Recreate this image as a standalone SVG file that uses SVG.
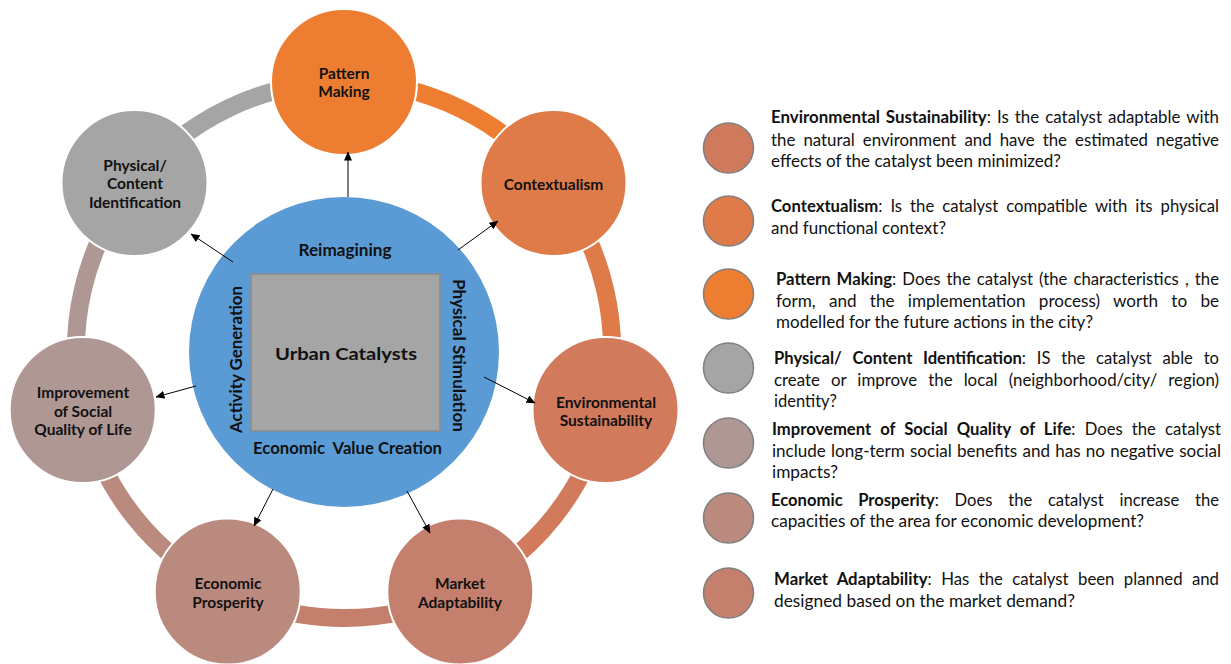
<svg xmlns="http://www.w3.org/2000/svg" width="1231" height="664" viewBox="0 0 1231 664">
<defs>
<marker id="ah" markerWidth="9" markerHeight="8" refX="8.5" refY="4" orient="auto" markerUnits="userSpaceOnUse">
<path d="M0,0 L9,4 L0,8 Z" fill="#000"/>
</marker>
<style>
.ring{fill:none;stroke-width:18}
.node{stroke:#fff;stroke-width:2}
.nl{font-family:Lato,"Liberation Sans",sans-serif;font-weight:bold;font-size:15.5px;fill:#111;text-anchor:middle}
.cl{font-family:Lato,"Liberation Sans",sans-serif;font-weight:bold;font-size:17px;fill:#111;text-anchor:middle}
.conn{stroke:#000;stroke-width:1;fill:none;marker-end:url(#ah)}
.lg{stroke:#7f7f7f;stroke-width:1.5}
.lt{font-family:Lato,"Liberation Sans",sans-serif;font-size:16.5px;fill:#111}
.b{font-weight:bold}
</style>
</defs>

<g id="ring">
<path class="ring" stroke="#ED7D31" d="M344,82 A268,268 0 0 1 553.5,182.9"/>
<path class="ring" stroke="#DF7B48" d="M553.5,182.9 A268,268 0 0 1 605.3,409.6"/>
<path class="ring" stroke="#D27A5C" d="M605.3,409.6 A268,268 0 0 1 460.3,591.5"/>
<path class="ring" stroke="#C57F6D" d="M460.3,591.5 A268,268 0 0 1 227.7,591.5"/>
<path class="ring" stroke="#BB8A7F" d="M227.7,591.5 A268,268 0 0 1 82.7,409.6"/>
<path class="ring" stroke="#AF9794" d="M82.7,409.6 A268,268 0 0 1 134.5,182.9"/>
<path class="ring" stroke="#A5A5A5" d="M134.5,182.9 A268,268 0 0 1 344,82"/>
</g>

<g id="center">
<circle cx="344" cy="352" r="155" fill="#5B9BD5"/>
<rect x="251" y="274" width="189" height="157" fill="#A5A5A5" stroke="#8a8a8a" stroke-width="1.5"/>
<text class="cl" x="345" y="256" textLength="93" lengthAdjust="spacingAndGlyphs">Reimagining</text>
<text class="cl" x="346" y="360" font-size="20.5px" textLength="142" lengthAdjust="spacingAndGlyphs">Urban Catalysts</text>
<text class="cl" x="347.5" y="454" textLength="189" lengthAdjust="spacingAndGlyphs" xml:space="preserve">Economic  Value Creation</text>
<text class="cl" transform="translate(242,359.5) rotate(-90)" x="0" y="0" textLength="147" lengthAdjust="spacingAndGlyphs">Activity Generation</text>
<text class="cl" transform="translate(453,355.5) rotate(90)" x="0" y="0" textLength="153" lengthAdjust="spacingAndGlyphs">Physical Stimulation</text>
</g>

<g id="node-pattern">
<circle class="node" cx="344" cy="82" r="73" fill="#ED7D31"/>
<text class="nl" x="344" y="79">Pattern</text>
<text class="nl" x="344" y="97">Making</text>
</g>
<g id="node-contextualism">
<circle class="node" cx="553.5" cy="183" r="73" fill="#DF7B48"/>
<text class="nl" x="553.5" y="190">Contextualism</text>
</g>
<g id="node-environmental">
<circle class="node" cx="605.5" cy="410" r="73" fill="#D27A5C"/>
<text class="nl" x="606" y="408">Environmental</text>
<text class="nl" x="606" y="426">Sustainability</text>
</g>
<g id="node-market">
<circle class="node" cx="460.3" cy="591.5" r="73" fill="#C57F6D"/>
<text class="nl" x="460" y="589">Market</text>
<text class="nl" x="460" y="608">Adaptability</text>
</g>
<g id="node-economic">
<circle class="node" cx="227.7" cy="591.5" r="73" fill="#BB8A7F"/>
<text class="nl" x="228" y="589">Economic</text>
<text class="nl" x="228" y="608">Prosperity</text>
</g>
<g id="node-social">
<circle class="node" cx="82.7" cy="410" r="73" fill="#AF9794"/>
<text class="nl" x="83" y="398">Improvement</text>
<text class="nl" x="83" y="417">of Social</text>
<text class="nl" x="83" y="435">Quality of Life</text>
</g>
<g id="node-physical">
<circle class="node" cx="134.5" cy="183" r="73" fill="#A5A5A5"/>
<text class="nl" x="135" y="171">Physical/</text>
<text class="nl" x="135" y="189">Content</text>
<text class="nl" x="135" y="207.5">Identification</text>
</g>

<g id="connectors">
<line class="conn" x1="348" y1="197" x2="348" y2="152"/>
<line class="conn" x1="458" y1="250" x2="498" y2="221"/>
<line class="conn" x1="484" y1="377" x2="535" y2="403"/>
<line class="conn" x1="407" y1="491" x2="430" y2="533"/>
<line class="conn" x1="273" y1="489" x2="254" y2="526"/>
<line class="conn" x1="196" y1="386" x2="156" y2="397"/>
<line class="conn" x1="233" y1="262" x2="191" y2="234"/>
</g>

<g id="legend-environmental">
<circle class="lg" cx="728.5" cy="148" r="25" fill="#D07A5D"/>
<text class="lt" x="771" y="123" textLength="448" lengthAdjust="spacingAndGlyphs" word-spacing="1.7"><tspan class="b">Environmental Sustainability</tspan>: Is the catalyst adaptable with</text>
<text class="lt" x="771" y="145.5" textLength="448" lengthAdjust="spacingAndGlyphs" word-spacing="3.7">the natural environment and have the estimated negative</text>
<text class="lt" x="771" y="167" textLength="290" lengthAdjust="spacingAndGlyphs">effects of the catalyst been minimized?</text>
</g>
<g id="legend-contextualism">
<circle class="lg" cx="728.5" cy="221" r="25" fill="#DF7B48"/>
<text class="lt" x="771" y="212" textLength="448" lengthAdjust="spacingAndGlyphs" word-spacing="3.7"><tspan class="b">Contextualism</tspan>: Is the catalyst compatible with its physical</text>
<text class="lt" x="771" y="233.5" textLength="175" lengthAdjust="spacingAndGlyphs">and functional context?</text>
</g>
<g id="legend-pattern">
<circle class="lg" cx="728.5" cy="294" r="25" fill="#ED7D31"/>
<text class="lt" x="776" y="285" textLength="443" lengthAdjust="spacingAndGlyphs" word-spacing="1.8"><tspan class="b">Pattern Making</tspan>: Does the catalyst (the characteristics , the</text>
<text class="lt" x="776" y="306.7" textLength="443" lengthAdjust="spacingAndGlyphs" word-spacing="8.6">form, and the implementation process) worth to be</text>
<text class="lt" x="776" y="328.3" textLength="317" lengthAdjust="spacingAndGlyphs">modelled for the future actions in the city?</text>
</g>
<g id="legend-physical">
<circle class="lg" cx="728.5" cy="368" r="25" fill="#A5A5A5"/>
<text class="lt" x="774" y="364" textLength="445" lengthAdjust="spacingAndGlyphs" word-spacing="6.5"><tspan class="b">Physical/ Content Identification</tspan>: IS the catalyst able to</text>
<text class="lt" x="774" y="386" textLength="445" lengthAdjust="spacingAndGlyphs" word-spacing="6.6">create or improve the local (neighborhood/city/ region)</text>
<text class="lt" x="774" y="406.7" textLength="63" lengthAdjust="spacingAndGlyphs">identity?</text>
</g>
<g id="legend-social">
<circle class="lg" cx="728.5" cy="443" r="25" fill="#AF9794"/>
<text class="lt" x="772" y="435" textLength="449" lengthAdjust="spacingAndGlyphs" word-spacing="4.9"><tspan class="b">Improvement of Social Quality of Life</tspan>: Does the catalyst</text>
<text class="lt" x="772" y="456.7" textLength="449" lengthAdjust="spacingAndGlyphs" word-spacing="0.8">include long-term social benefits and has no negative social</text>
<text class="lt" x="772" y="477.7" textLength="66" lengthAdjust="spacingAndGlyphs">impacts?</text>
</g>
<g id="legend-economic">
<circle class="lg" cx="728.5" cy="518" r="25" fill="#BB8A7F"/>
<text class="lt" x="771" y="505.7" textLength="448" lengthAdjust="spacingAndGlyphs" word-spacing="11.4"><tspan class="b">Economic Prosperity</tspan>: Does the catalyst increase the</text>
<text class="lt" x="771" y="526.7" textLength="373" lengthAdjust="spacingAndGlyphs">capacities of the area for economic development?</text>
</g>
<g id="legend-market">
<circle class="lg" cx="728.5" cy="593" r="25" fill="#C57F6D"/>
<text class="lt" x="774" y="585" textLength="445" lengthAdjust="spacingAndGlyphs" word-spacing="5"><tspan class="b">Market Adaptability</tspan>: Has the catalyst been planned and</text>
<text class="lt" x="774" y="606.7" textLength="301" lengthAdjust="spacingAndGlyphs">designed based on the market demand?</text>
</g>
</svg>
